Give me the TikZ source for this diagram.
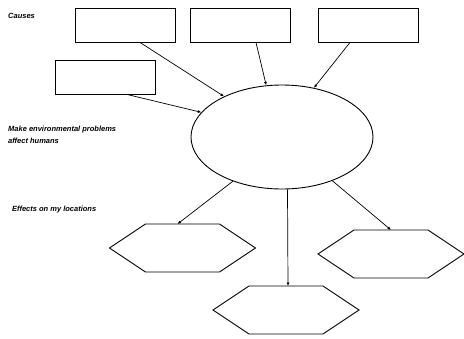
\documentclass[tikz,border=0pt]{standalone}
\usepackage{fontspec}
\setmainfont{Liberation Sans}
\usetikzlibrary{calc,arrows.meta,shapes.geometric}

\begin{document}
\begin{tikzpicture}[x=1pt,y=-1pt,>={Latex[length=3.5pt,width=3pt]},
    causebox/.style={draw,line width=0.9pt,minimum width=100pt,minimum height=34pt,inner sep=0pt},
    hexline/.style={draw,line width=0.9pt,line join=miter},
    link/.style={->,line width=0.7pt},
    lbl/.style={anchor=west,inner sep=0pt,align=left,font=\fontsize{7.5}{12}\selectfont\bfseries\itshape}]
  \useasboundingbox (0,0) rectangle (464,338);
  % causes
  \node[causebox] (c1) at (125,25) {};
  \node[causebox] (c2) at (240,25) {};
  \node[causebox] (c3) at (368,25) {};
  \node[causebox] (c4) at (105,77) {};
  \node[draw,line width=0.9pt,ellipse,minimum width=182pt,minimum height=104pt,inner sep=0pt] (prob) at (282,137) {};
  % effects
  \coordinate (e1) at (182.5,248);
  \coordinate (e2) at (391,254);
  \coordinate (e3) at (286,310);
  \foreach \e in {e1,e2,e3}
    \draw[hexline] ($(\e)+(-73,0)$) -- ++(36,-24) -- ++(74,0) -- ++(36,24)
      -- ++(-36,24) -- ++(-74,0) -- cycle;
  % labels
  \node[lbl] (tcause) at (8,16) {Causes};
  \node[lbl] (tprob) at (8,135) {Make environmental problems\\affect humans};
  \node[lbl] (teff) at (12,210) {Effects on my locations};
  % connectors
  \draw[link] ($(c1.south)+(15,0)$) -- (prob.145);
  \draw[link] ($(c4.south)+(22,0)$) -- (prob.163);
  \draw[link] ($(c2.south)+(16,0)$) -- (prob.107);
  \draw[link] ($(c3.south)+(-18,0)$) -- (prob.57);
  \draw[link] (prob.222) -- ($(e1)+(-5,-24)$);
  \draw[link] (prob.276) -- ($(e3)+(2,-24)$);
  \draw[link] (prob.319) -- ($(e2)+(0,-24)$);
\end{tikzpicture}
\end{document}
